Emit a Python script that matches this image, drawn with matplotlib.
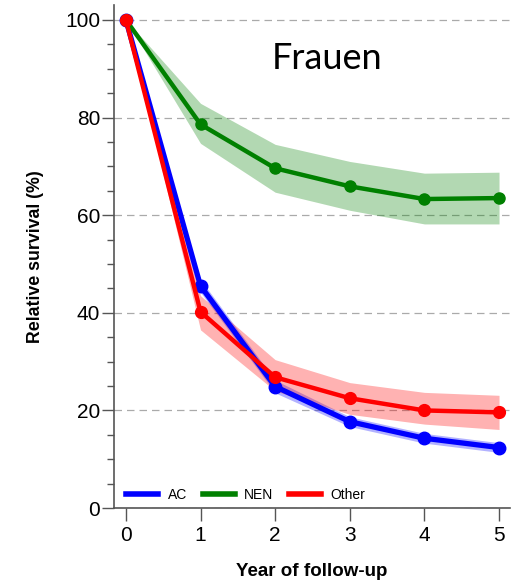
import matplotlib.pyplot as plt
from matplotlib.ticker import MultipleLocator

plt.rcParams["font.family"] = ["Liberation Sans", "DejaVu Sans"]

years = [0, 1, 2, 3, 4, 5]

ac = [100, 45.5, 24.9, 17.7, 14.3, 12.4]
ac_lo = [100, 44.2, 23.6, 16.7, 13.3, 11.4]
ac_hi = [100, 46.8, 26.2, 18.7, 15.3, 13.4]

nen = [100, 78.6, 69.6, 65.9, 63.3, 63.5]
nen_lo = [100, 74.7, 64.7, 61.0, 58.2, 58.2]
nen_hi = [100, 82.9, 74.5, 71.0, 68.6, 68.8]

other = [100, 40.2, 26.8, 22.5, 20.0, 19.6]
other_lo = [100, 36.5, 24.0, 19.2, 17.2, 16.1]
other_hi = [100, 43.5, 30.4, 25.7, 23.7, 23.1]

fig = plt.figure(figsize=(5.18, 5.80), dpi=100)
ax = fig.add_axes([0.220, 0.124, 0.765, 0.867])

ax.grid(axis="y", color="#aaaaaa", linestyle=(0, (6, 4)), linewidth=0.9)
ax.set_axisbelow(True)

# AC first so the red band sits on top of it
ax.fill_between(years, ac_lo, ac_hi, color="blue", alpha=0.3, linewidth=0)
ax.plot(years, ac, color="blue", lw=3.8, marker="o", ms=9, label="AC")

ax.fill_between(years, nen_lo, nen_hi, color="green", alpha=0.3, linewidth=0)
ax.plot(years, nen, color="green", lw=3.2, marker="o", ms=8, label="NEN")

ax.fill_between(years, other_lo, other_hi, color="red", alpha=0.3, linewidth=0)
ax.plot(years, other, color="red", lw=3.2, marker="o", ms=8.5, label="Other")

ax.set_xlim(-0.16, 5.15)
ax.set_ylim(0, 103)
ax.set_xticks(years)
ax.yaxis.set_major_locator(MultipleLocator(20))
ax.yaxis.set_minor_locator(MultipleLocator(5))

for side in ["top", "right"]:
    ax.spines[side].set_visible(False)
for side in ["left", "bottom"]:
    ax.spines[side].set_color("#555555")
    ax.spines[side].set_linewidth(1.2)

ax.tick_params(axis="both", which="major", direction="out", length=9, width=1,
               color="#555555", labelsize=15)
ax.tick_params(axis="y", which="major", pad=1)
ax.tick_params(axis="x", which="major", pad=4)
ax.tick_params(axis="y", which="minor", direction="out", length=5, width=1, color="#555555")

ax.set_xlabel("Year of follow-up", fontsize=13.5, fontweight="bold", labelpad=13)
ax.set_ylabel("Relative survival (%)", fontsize=12.8, fontweight="bold", labelpad=15)

ax.text(0.538, 0.895, "Frauen", transform=ax.transAxes, fontsize=26,
        family=["Lato", "DejaVu Sans"], ha="center", va="center")

leg = ax.legend(loc="lower left", ncol=3, frameon=False, fontsize=10,
                handlelength=2.3, columnspacing=1.1, handletextpad=0.7,
                bbox_to_anchor=(0.0, -0.012))
for line in leg.get_lines():
    line.set_marker("")
    line.set_linewidth(4)

fig.savefig("out.png", dpi=100)
